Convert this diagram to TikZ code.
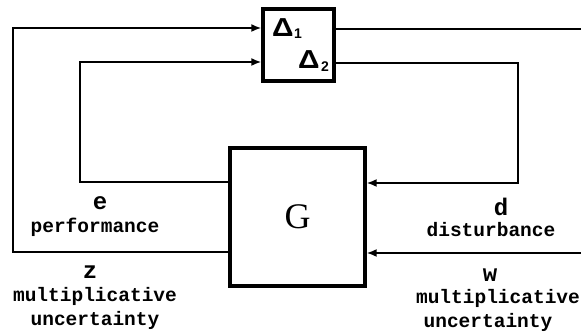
\documentclass[tikz,border=0pt]{standalone}
\usepackage{fontspec}
\usetikzlibrary{arrows.meta}
\newfontfamily\labfont{Liberation Mono}
\newfontfamily\dfont{Liberation Sans}
\newfontfamily\gfont{Liberation Serif}
\tikzset{
  blk/.style={draw, line width=3.4pt, inner sep=0pt},
  conn/.style={line width=1.7pt},
  sig/.style={font=\labfont\bfseries\fontsize{24}{26}\selectfont, inner sep=0pt},
  lab/.style={font=\labfont\bfseries\fontsize{19.5}{22}\selectfont, inner sep=0pt},
  dlt/.style={font=\dfont\bfseries\fontsize{26}{28}\selectfont, inner sep=0pt, anchor=base west},
  dsub/.style={font=\dfont\bfseries\fontsize{14}{16}\selectfont, inner sep=0pt, anchor=base west}
}
\begin{document}
\begin{tikzpicture}[x=1pt,y=-1pt, >={Latex[length=10pt,width=8pt]}]
\useasboundingbox (0,0) rectangle (581,336);
\node[blk, minimum width=71pt, minimum height=72pt] (D) at (298.5,45) {};
\node[blk, minimum width=135pt, minimum height=138pt,
      font=\gfont\fontsize{36}{38}\selectfont] (G) at (297.5,217) {G};
\node[dlt] (D1) at (272,37) {\scalebox{1.15}[1]{Δ}};
\node[dsub] (s1) at (294,39) {1};
\node[dlt] (D2) at (298,69) {\scalebox{1.15}[1]{Δ}};
\node[dsub] (s2) at (321,71.5) {2};
% corner coordinates
\coordinate (zl) at (13,252);
\coordinate (zt) at (13,28);
\coordinate (el) at (80,182);
\coordinate (et) at (80,62);
\coordinate (o1) at (581,29);
\coordinate (o2) at (518,63);
\coordinate (o2b) at (518,183);
\coordinate (wr) at (581,253);
% connectors
\draw[conn,->] (G.west |- zl) -- (zl) -- (zt) -- (D.west |- zt);
\draw[conn,->] (G.west |- el) -- (el) -- (et) -- (D.west |- et);
\draw[conn] (D.east |- o1) -- (o1);
\draw[conn,->] (D.east |- o2) -- (o2) -- (o2b) -- (G.east |- o2b);
\draw[conn,->] (wr) -- (G.east |- wr);
% labels
\node[sig] (le) at (100,203) {e};
\node[lab] (lp) at (95,227) {performance};
\node[sig] (lz) at (90,272) {z};
\node[lab] (lm1) at (95,296) {multiplicative};
\node[lab] (lu1) at (95,320) {uncertainty};
\node[sig] (ld) at (501,207) {d};
\node[lab] (ldi) at (491,230) {disturbance};
\node[sig] (lw) at (490,275) {w};
\node[lab] (lm2) at (498,298) {multiplicative};
\node[lab] (lu2) at (488,322) {uncertainty};
\end{tikzpicture}
\end{document}
